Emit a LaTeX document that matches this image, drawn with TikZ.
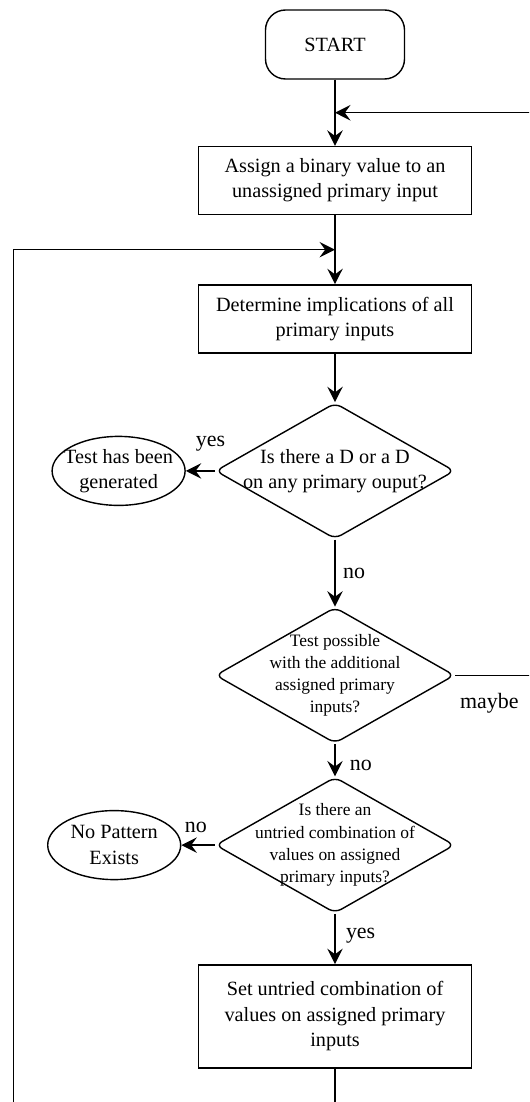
\documentclass[tikz,border=0pt]{standalone}
\usepackage{fontspec}
\setmainfont{Liberation Serif}
\usetikzlibrary{shapes.geometric}
\usetikzlibrary{positioning}
\usetikzlibrary{arrows.meta}
\usetikzlibrary{calc}
\tikzset{
    node distance=3.4cm,
    >={Stealth[length=11pt,width=11pt,inset=4pt]},
    base/.style={
        draw,
        line width=1pt,
        align=center,
        font=\fontsize{14.4}{18}\selectfont
    },
    terminal/.style={
        base,
        rounded corners=0.5cm,
        minimum width=3.475cm,
        minimum height=1.725cm
    },
    process/.style={
        base,
        minimum width=6.825cm,
        minimum height=1.7cm
    },
    decision/.style={
        base,
        diamond,
        aspect=1.76,
        inner sep=-12pt,
        rounded corners=5pt,
        minimum width=5.975cm,
        minimum height=3.4cm
    },
    smalltext/.style={
        font=\fontsize{12.4}{15.8}\selectfont
    },
    outcome/.style={
        base,
        ellipse,
        inner sep=-6pt,
        minimum width=3.325cm,
        minimum height=1.725cm
    },
    answer/.style={
        font=\fontsize{15.6}{18}\selectfont
    },
    feedback/.style={
        draw,
        ->,
        line width=1pt
    },
    every edge/.append style={
        draw,
        ->,
        line width=1pt
    }
}
\begin{document}
\begin{tikzpicture}
    \useasboundingbox (0,0) rectangle (13.225,-27.55);
    \clip (0,0) rectangle (13.225,-27.55);

    \node[terminal] (start) at (8.375,-1.1125) {START};
    \node[process, below of=start] (assign) {Assign a binary value to an\\unassigned primary input};
    \node[process, below of=assign, yshift=-0.06cm] (determine) {Determine implications of all\\primary inputs};
    \node[decision, below of=determine, yshift=-0.4cm] (dvalue) {Is there a D or a D\\on any primary ouput?};
    \node[decision, smalltext, below of=dvalue, yshift=-1.71cm] (possible) {Test possible\\with the additional\\assigned primary\\inputs?};
    \node[decision, smalltext, below of=possible, yshift=-0.845cm] (untried) {Is there an\\untried combination of\\values on assigned\\primary inputs?};
    \node[process, below of=untried, yshift=-0.88cm, minimum height=2.575cm] (setcomb) {Set untried combination of\\values on assigned primary\\inputs};
    \node[outcome, left of=dvalue, xshift=-2.01cm] (generated) {Test has been\\generated};
    \node[outcome, left of=untried, xshift=-2.12cm] (nopattern) {No Pattern\\Exists};

    \coordinate (join1) at ($(start.south)!0.5!(assign.north)$);
    \coordinate (join2) at ($(assign.south)!0.5!(determine.north)$);
    \coordinate (rightcorner) at (13.625,-27.875);
    \coordinate (leftcorner) at (0.3375,-27.875);

    \draw (start) edge (assign);
    \draw (assign) edge (determine);
    \draw (determine) edge (dvalue);
    \draw (dvalue) edge node[answer, right=2pt] {no} (possible);
    \draw (possible) edge node[answer, right=6.7pt, pos=0.65] {no} (untried);
    \draw (untried) edge node[answer, right=4pt, pos=0.44] {yes} (setcomb);
    \draw (dvalue) edge node[answer, above=10pt, pos=0.15] {yes} (generated);
    \draw (untried) edge node[answer, above=4.7pt, pos=0.57] {no} (nopattern);

    % loops back up
    \draw[feedback] (possible.east) -- node[answer, below=9pt, pos=0.38] {maybe} (possible.east -| rightcorner) |- (join1);
    \draw[feedback] (setcomb.south) |- (leftcorner) |- (join2);
\end{tikzpicture}
\end{document}
